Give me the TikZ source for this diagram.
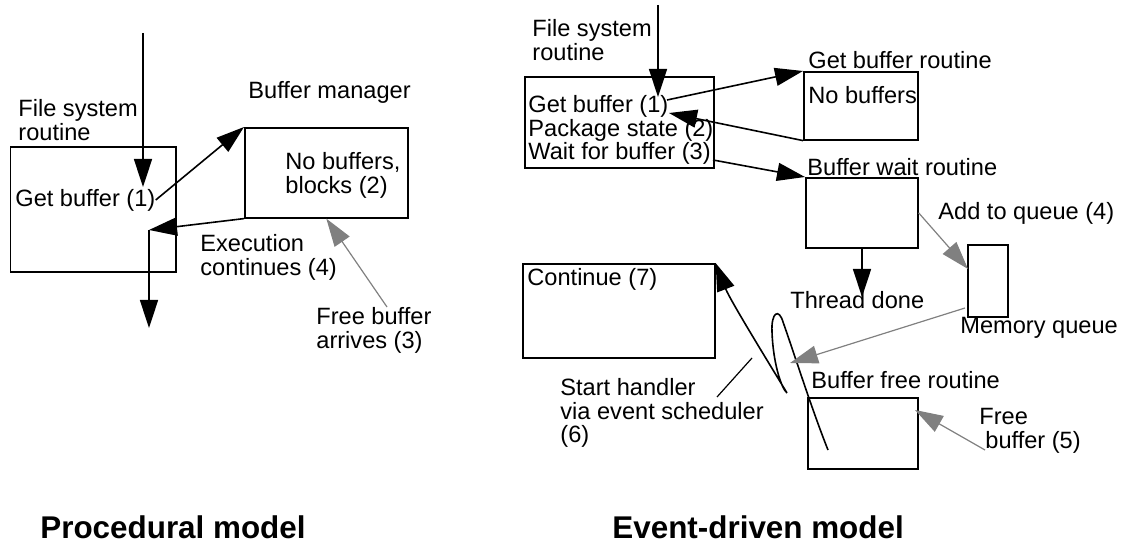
\documentclass[tikz,border=0pt]{standalone}
\usepackage{fontspec}
\setmainfont{Liberation Sans}
\usetikzlibrary{arrows.meta}

\begin{document}
\begin{tikzpicture}[x=0.5pt, y=-0.5pt,
  font=\fontsize{11.8}{11.9}\selectfont,
  box/.style={draw, line width=0.8pt, anchor=north west, inner sep=0},
  lbl/.style={anchor=west, align=left, inner sep=0},
  arr/.style={line width=0.8pt, -{Triangle[length=14pt, width=9pt]}},
  garr/.style={gray, line width=0.6pt, -{Triangle[length=14pt, width=9pt]}}]
\useasboundingbox (0,0) rectangle (1122,544);

% procedural model
\node[box, minimum width=82.75pt, minimum height=62.5pt] (fsL) at (9.5,146){};
\node[box, minimum width=81.5pt, minimum height=45pt] (bmL) at (244,127){};
\node[lbl] (fsLtxt) at (18,120){File system\\routine};
\node[lbl] (getL) at (15,200){Get buffer (1)};
\node[lbl] (bmLtxt) at (248,92){Buffer manager};
\node[lbl] (noL) at (285,175){No buffers,\\blocks (2)};
\node[lbl] (exL) at (200,257){Execution\\continues (4)};
\node[lbl] (frL) at (316,330){Free buffer\\arrives (3)};
\coordinate (inL) at (143,33);
\coordinate (hitL) at (143,187);
\coordinate (retL) at (149,230);
\coordinate (outL) at (149,328);
\coordinate (srcL) at (387,307);
\draw[arr](inL) -- (hitL);
\draw[arr](getL.east) -- (bmL.north west);
\draw[arr](bmL.south west) -- (retL);
\draw[arr](retL) -- (outL);
\draw[garr](srcL) -- (bmL.south);

% event-driven model
\node[box, minimum width=94.5pt, minimum height=45.5pt] (fsR) at (524,76){};
\node[box, minimum width=57pt, minimum height=34pt] (gbR) at (803,71){};
\node[box, minimum width=56pt, minimum height=35pt] (bwR) at (805,177){};
\node[box, minimum width=20pt, minimum height=36pt] (mq) at (967,244){};
\node[box, minimum width=96pt, minimum height=47pt] (cont) at (522,263){};
\node[box, minimum width=55pt, minimum height=35.5pt] (bfR) at (807,397){};
\node[lbl] (fsRtxt) at (532,40){File system\\routine};
\node[lbl] (stepsR) at (528,130){Get buffer (1)\\Package state (2)\\Wait for buffer (3)};
\node[lbl] (gbRtxt) at (808,60){Get buffer routine};
\node[lbl] (noR) at (808,95){No buffers};
\node[lbl] (bwRtxt) at (807,167){Buffer wait routine};
\node[lbl] (addR) at (938,213){Add to queue (4)};
\node[lbl] (thrR) at (790,300){Thread done};
\node[lbl] (mqtxt) at (960,328){Memory queue};
\node[lbl] (contR) at (527,279){Continue (7)};
\node[lbl] (startR) at (560,413){Start handler\\via event scheduler\\(6)};
\node[lbl] (bfRtxt) at (811,380){Buffer free routine};
\node[lbl] (frR) at (979,431){Free\\\hspace{3pt}buffer (5)};
\coordinate (inR) at (658,5);
\coordinate (hitR) at (658,97);
\coordinate (g1) at (667,100);
\coordinate (g2) at (669,113);
\coordinate (w3) at (713,160);
\coordinate (thr) at (862,297);
\coordinate (qin) at (968,269);
\coordinate (qout) at (965,308);
\coordinate (sched) at (790,363);
\coordinate (frin) at (915,410);
\coordinate (frsrc) at (985,450);
\coordinate (hnd) at (828,450);
\coordinate (pk) at (783,322);
\coordinate (bt) at (787,393);
\coordinate (lead1) at (717,397);
\coordinate (lead2) at (752,358);
\draw[arr](hnd) .. controls (812,410) and (793,350) .. (pk)
  .. controls (779,308) and (771,312) .. (772,332)
  .. controls (773,362) and (781,388) .. (bt)
  .. controls (770,365) and (730,300) .. (cont.north east);
\draw[arr](inR) -- (hitR);
\draw[arr](g1) -- (gbR.north west);
\draw[arr](gbR.south west) -- (g2);
\draw[arr](w3) -- (bwR.north west);
\draw[arr](bwR.south -| thr) -- (thr);
\draw[garr](bwR.east) -- (qin);
\draw[garr](qout) -- (sched);
\draw[garr](frsrc) -- (frin);
\draw[line width=0.6pt](lead1) -- (lead2);

% titles
\node[anchor=west, inner sep=0, font=\fontsize{15.7}{16}\selectfont\bfseries] (procT) at (40,527){Procedural model};
\node[anchor=west, inner sep=0, font=\fontsize{15.7}{16}\selectfont\bfseries] (evtT) at (612,527){Event-driven model};

\end{tikzpicture}
\end{document}
